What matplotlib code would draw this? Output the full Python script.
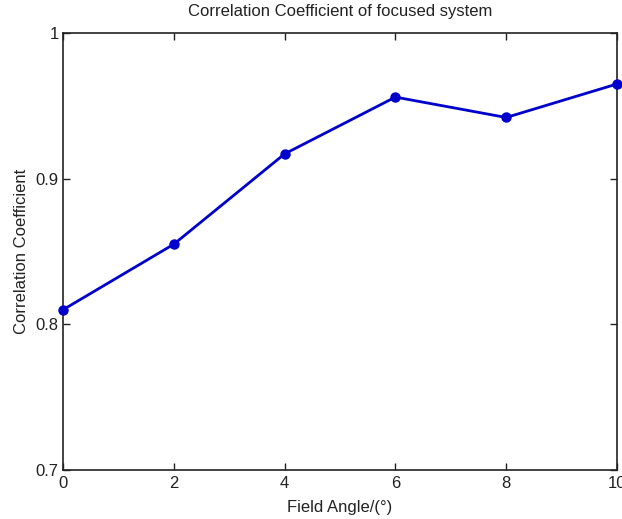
import matplotlib
matplotlib.use("Agg")
import matplotlib.pyplot as plt

field_angle = [0, 2, 4, 6, 8, 10]
corr_coef = [0.810, 0.855, 0.917, 0.956, 0.942, 0.965]
x_ticks = [0, 2, 4, 6, 8, 10]
y_ticks = [0.7, 0.8, 0.9, 1.0]
y_tick_labels = ["0.7", "0.8", "0.9", "1"]

plt.rcParams['font.family'] = ['Liberation Sans', 'DejaVu Sans']

fig = plt.figure(figsize=(6.22, 5.19), dpi=100)
ax = fig.add_axes([63/622, 1-470/519, (617-63)/622, (470-33)/519])
ax.plot(field_angle, corr_coef, color='#0000cc', linewidth=2, marker='o',
        markersize=6.5, markerfacecolor='#0000cc', markeredgecolor='#0000cc',
        clip_on=False, zorder=3)
ax.set_xlim(0, 10)
ax.set_ylim(0.7, 1.0)
ax.set_xticks(x_ticks)
ax.set_xticklabels([str(v) for v in x_ticks])
ax.set_yticks(y_ticks)
ax.set_yticklabels(y_tick_labels)
ax.tick_params(direction='in', top=True, right=True, length=5, width=1,
               labelsize=12, pad=4, colors='#222222')
ax.tick_params(axis='y', pad=3)
for s in ax.spines.values():
    s.set_linewidth(1.2)
    s.set_color('#222222')
ax.set_title("Correlation Coefficient of focused system", fontsize=12, pad=12, color='#222222')
ax.set_xlabel("Field Angle/(°)", fontsize=12, labelpad=7, color='#222222')
ax.set_ylabel("Correlation Coefficient", fontsize=12, labelpad=5, color='#222222')
fig.savefig("out.png", dpi=100)
